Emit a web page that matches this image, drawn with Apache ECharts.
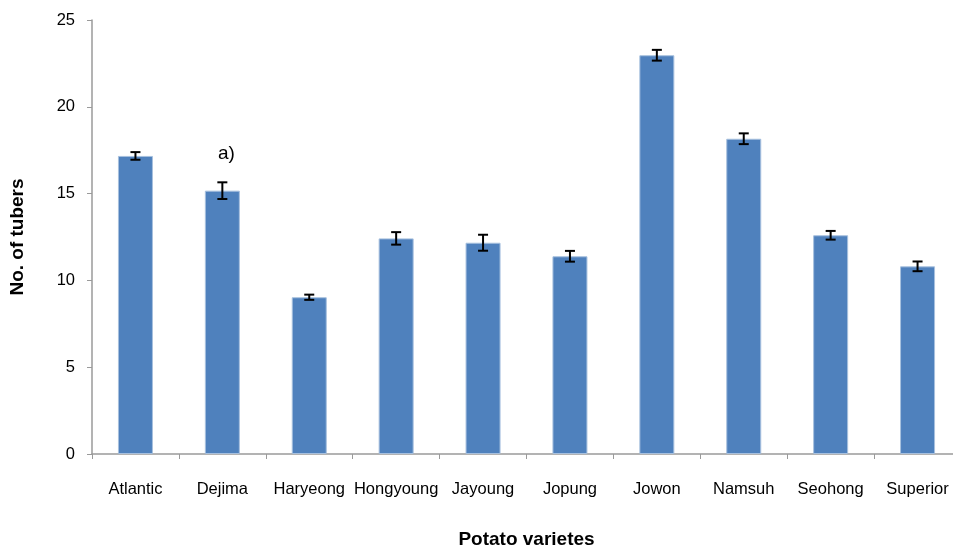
<!DOCTYPE html>
<html>
<head>
<meta charset="utf-8">
<script src="https://cdn.jsdelivr.net/npm/echarts@6/dist/echarts.min.js"></script>
<style>
  html, body { margin: 0; padding: 0; background: #fff; }
  #chart { width: 953px; height: 547px; }
</style>
</head>
<body>
<div id="chart"></div>
<script>
const varieties = ['Atlantic', 'Dejima', 'Haryeong', 'Hongyoung', 'Jayoung', 'Jopung', 'Jowon', 'Namsuh', 'Seohong', 'Superior']
const tubers = [17.17, 15.17, 9.03, 12.42, 12.17, 11.39, 22.97, 18.16, 12.6, 10.81]
const tuberErr = [0.22, 0.48, 0.15, 0.36, 0.46, 0.31, 0.31, 0.31, 0.25, 0.28]

const chart = echarts.init(document.getElementById('chart'))

const axisGray = '#9a9a9a'
const font = '"Liberation Sans", Arial, sans-serif'

// error bar data: [index, low, high]
const errData = tubers.map((v, i) => [i, v - tuberErr[i], v + tuberErr[i]])

chart.setOption({
  backgroundColor: '#fff',
  animation: false,
  // plot runs a little past the right edge, like the original figure
  grid: { left: 92, right: -8, top: 20, bottom: 93, outerBoundsMode: 'none', containLabel: false },
  xAxis: {
    type: 'category',
    data: varieties,
    name: 'Potato varietes',
    nameLocation: 'middle',
    nameGap: 76,
    nameTextStyle: { fontFamily: font, fontSize: 19, fontWeight: 'bold', color: '#000' },
    axisLine: { lineStyle: { color: axisGray, width: 1.5 } },
    axisTick: { show: true, length: 5, lineStyle: { color: axisGray } },
    axisLabel: { margin: 27, fontFamily: font, fontSize: 16.5, color: '#000', interval: 0 }
  },
  yAxis: {
    type: 'value',
    min: 0,
    max: 25,
    interval: 5,
    name: 'No. of tubers',
    nameLocation: 'middle',
    nameGap: 65,
    nameTextStyle: { fontFamily: font, fontSize: 19, fontWeight: 'bold', color: '#000' },
    axisLine: { show: true, lineStyle: { color: axisGray, width: 1.5 } },
    axisTick: { show: true, length: 5, lineStyle: { color: axisGray } },
    axisLabel: { margin: 17, fontFamily: font, fontSize: 16.5, color: '#000' },
    splitLine: { show: false }
  },
  series: [
    {
      type: 'bar',
      data: tubers,
      barWidth: 35,
      itemStyle: { color: '#4f81bd', borderColor: '#a7c0de', borderWidth: 1 }
    },
    {
      type: 'custom',
      data: errData,
      z: 10,
      renderItem: (params, api) => {
        const x = api.value(0)
        const lo = api.coord([x, api.value(1)])
        const hi = api.coord([x, api.value(2)])
        const half = 5
        const style = { stroke: '#000', lineWidth: 2 }
        return {
          type: 'group',
          children: [
            { type: 'line', shape: { x1: lo[0], y1: lo[1], x2: hi[0], y2: hi[1] }, style },
            { type: 'line', shape: { x1: lo[0] - half, y1: lo[1], x2: lo[0] + half, y2: lo[1] }, style },
            { type: 'line', shape: { x1: hi[0] - half, y1: hi[1], x2: hi[0] + half, y2: hi[1] }, style }
          ]
        }
      }
    }
  ],
  graphic: [
    {
      type: 'text',
      left: 218,
      top: 144,
      style: { text: 'a)', font: '19px ' + font, fill: '#000' }
    }
  ]
})
</script>
</body>
</html>
